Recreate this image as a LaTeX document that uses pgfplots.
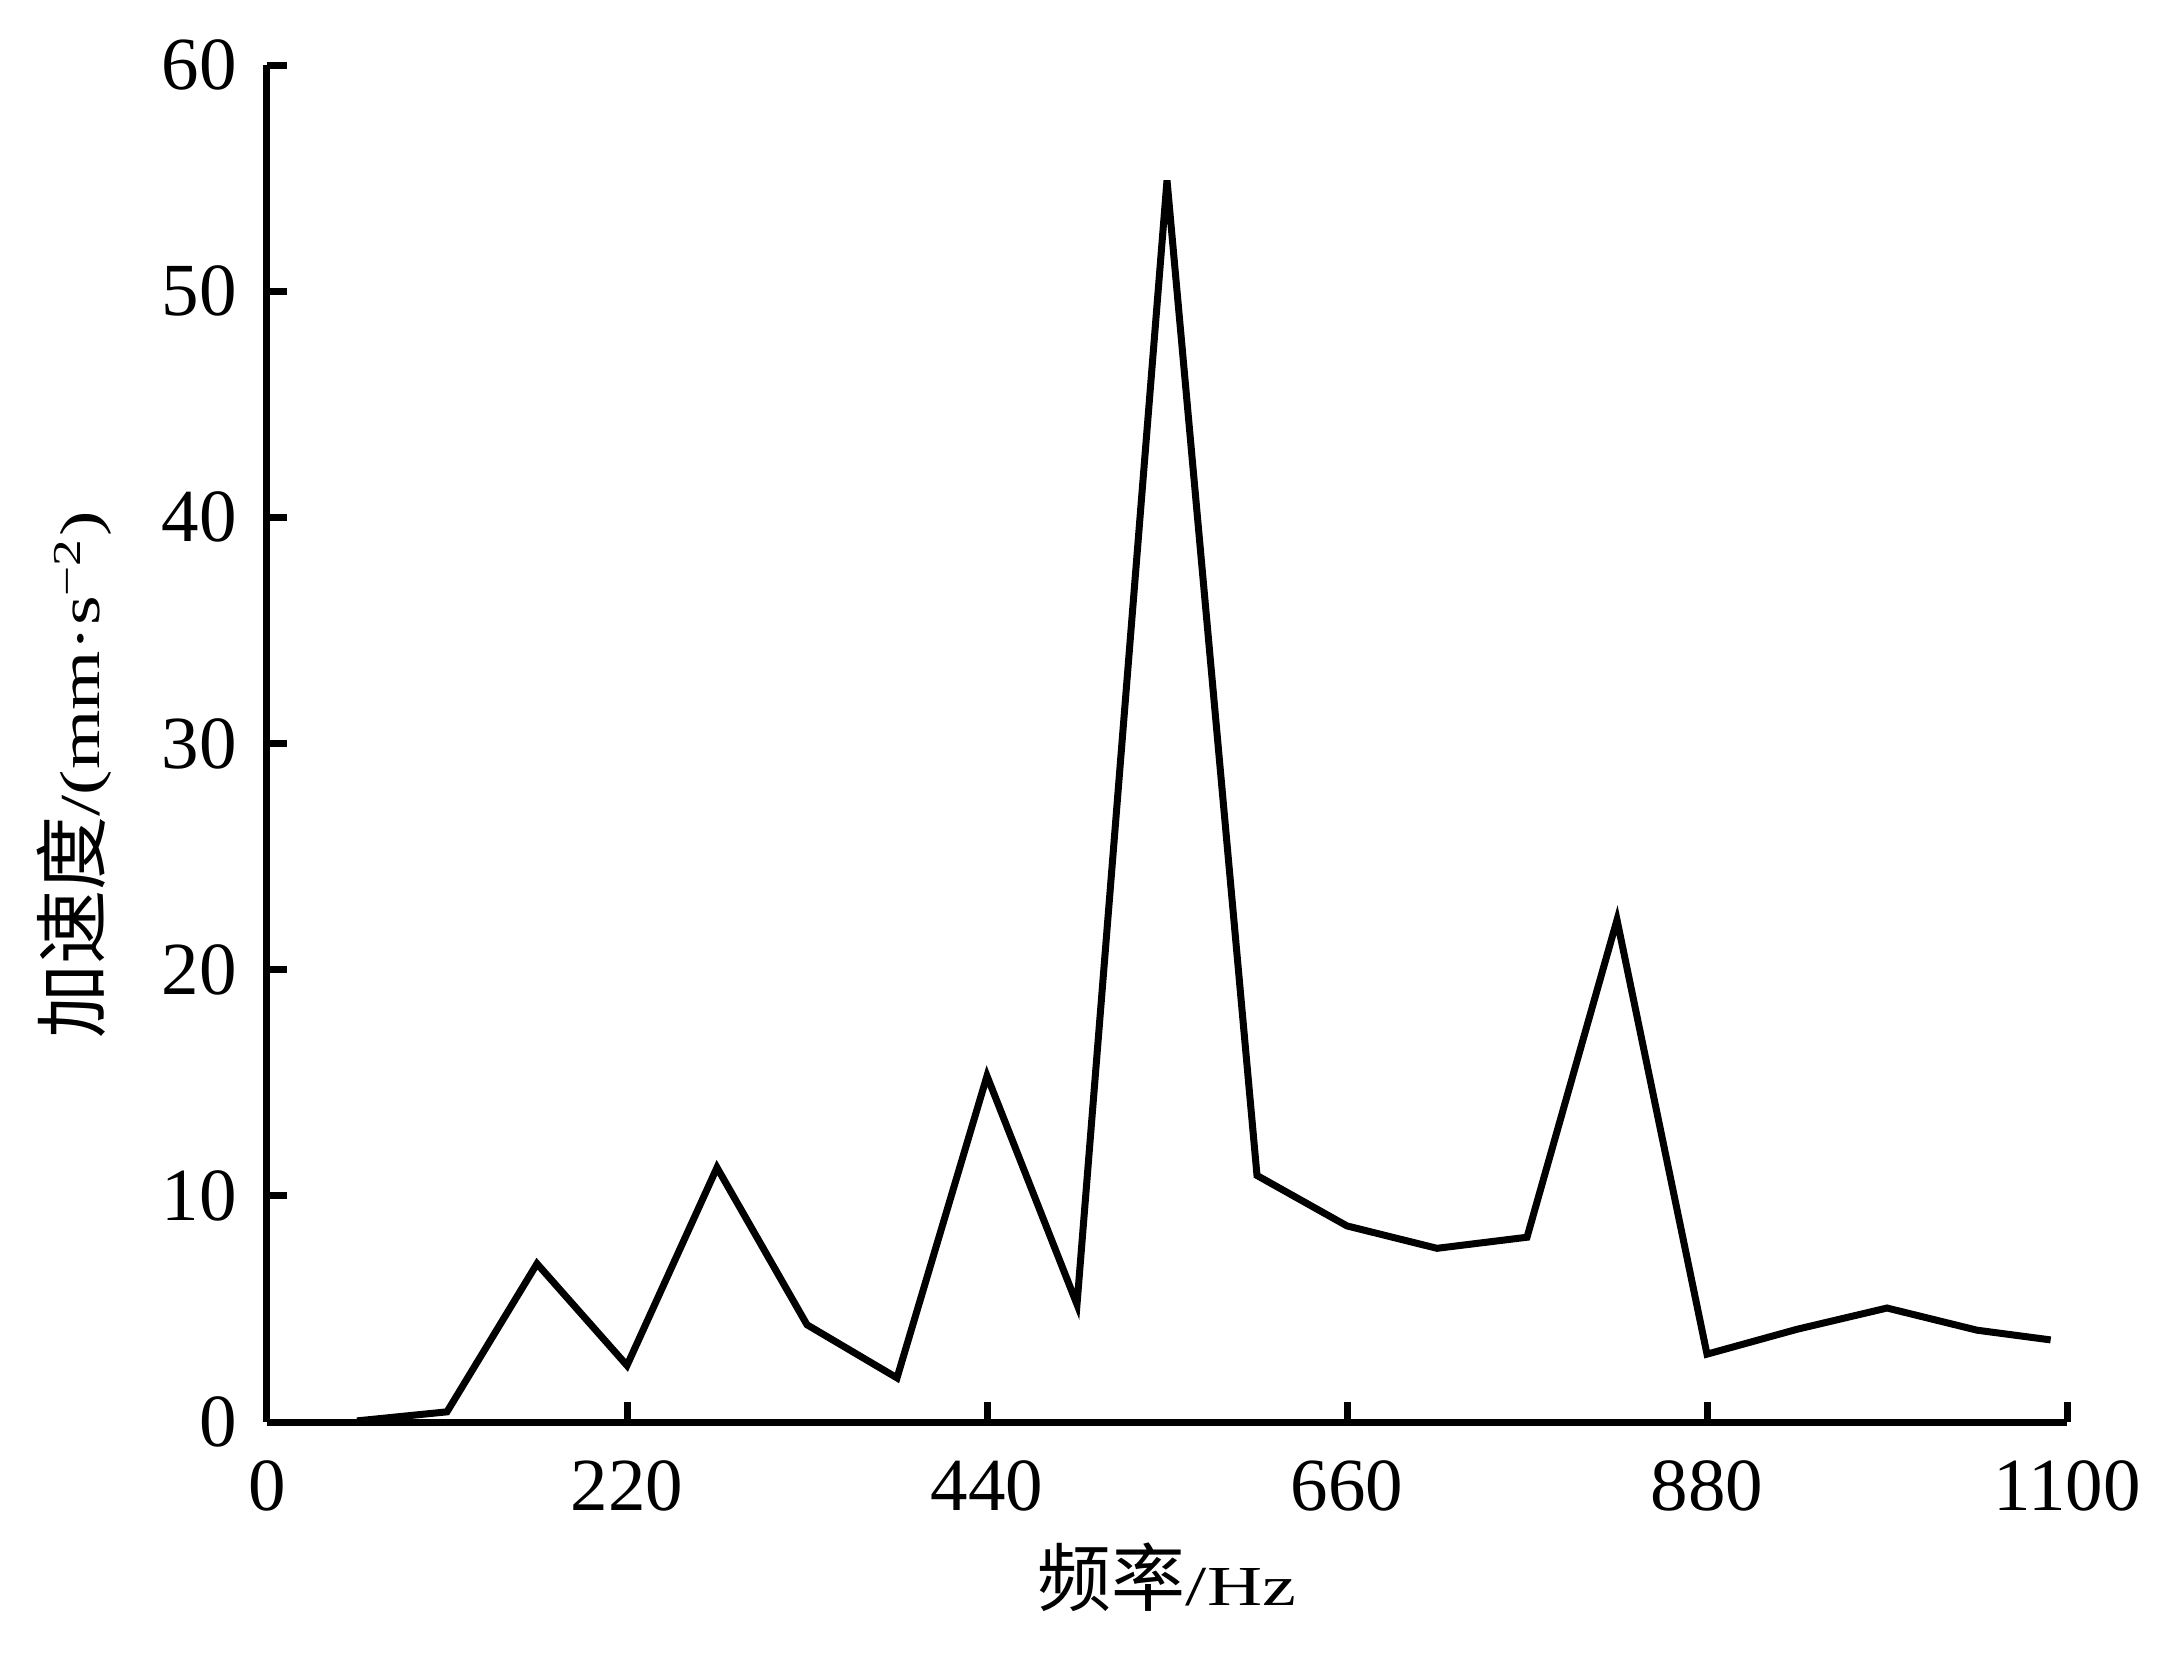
\documentclass[border=0pt]{standalone}
\usepackage{fontspec}
\setmainfont{Liberation Serif}
\newfontfamily\wide[FakeStretch=1.35]{Liberation Serif}
\newfontfamily\cjk{Noto Sans CJK SC}
\usepackage{pgfplots}
\pgfplotsset{compat=1.18}
\begin{document}
\begin{tikzpicture}
\useasboundingbox (-53.4pt,-48pt) rectangle (382.6pt,284.4pt);
\begin{axis}[
  at={(0,0)}, anchor=origin,
  scale only axis,
  width=360pt, height=271.4pt,
  xmin=0, xmax=1100, ymin=0, ymax=60,
  axis x line=bottom, axis y line=left,
  axis line style={-, line width=1.4pt},
  every tick/.style={line width=1.4pt, black},
  major tick length=4pt,
  tick align=inside,
  xtick={0,220,440,660,880,1100},
  ytick={0,10,20,30,40,50,60},
  /pgf/number format/assume math mode=true,
  /pgf/number format/set thousands separator={},
  tick label style={font=\fontsize{15}{18}\selectfont, inner sep=0pt},
  xticklabel style={anchor=north, yshift=-7.6pt},
  yticklabel style={anchor=east, xshift=-5.8pt},
  xlabel={{\cjk\fontsize{14.8}{17}\selectfont 频率}{\wide\fontsize{11.3}{13}\selectfont /Hz}},
  xlabel style={at={(rel axis cs:0.5,0)}, anchor=base, yshift=-36.6pt, inner sep=0pt},
  ylabel={{\cjk\fontsize{14.8}{17}\selectfont 加速度}{\wide\fontsize{11.3}{13}\selectfont /(mm·s\textsuperscript{−2})}},
  ylabel style={at={(rel axis cs:-0.0928,0.4768)}, anchor=base, inner sep=0pt},
]
\addplot[black, line width=1.4pt, line join=miter] coordinates {
  (55,0.05) (110,0.45) (165,7.0) (220,2.5) (275,11.25) (330,4.3) (385,1.95)
  (440,15.3) (495,5.2) (550,54.9) (605,10.9) (660,8.67) (715,7.68) (770,8.17)
  (825,22.2) (880,3.0) (935,4.1) (990,5.04) (1045,4.06) (1090,3.63)
};
\end{axis}
\end{tikzpicture}
\end{document}
